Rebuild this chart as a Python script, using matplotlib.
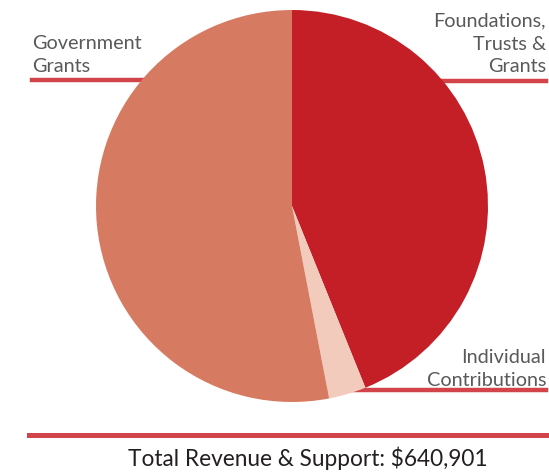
import matplotlib
matplotlib.use("Agg")
import matplotlib.pyplot as plt
from matplotlib.lines import Line2D

categories = ["Foundations, Trusts & Grants", "Individual Contributions", "Government Grants"]
values = [281300, 19700, 339901]
colors = ["#c41f26", "#f2cbbc", "#d67b62"]
total_label = "Total Revenue & Support: $640,901"

W, H = 549, 472
fig = plt.figure(figsize=(W / 100, H / 100), dpi=100)
fig.patch.set_facecolor("white")

line_color = "#d2434a"
font = ["Lato", "DejaVu Sans"]

def fx(x):
    return x / W

def fy(y):
    return 1 - y / H

# leader lines (drawn behind pie)
for (x0, x1, y) in [(32, 200, 80), (420, 546, 81), (330, 546, 390)]:
    fig.add_artist(Line2D([fx(x0), fx(x1)], [fy(y), fy(y)], color=line_color, lw=3.2, zorder=0))
fig.add_artist(Line2D([fx(29), fx(547)], [fy(435), fy(435)], color=line_color, lw=3.6, zorder=0))

cx, cy, r = 292, 206, 196
ax = fig.add_axes([fx(cx - r), fy(cy + r), 2 * r / W, 2 * r / H])
ax.set_zorder(1)
ax.pie(values, colors=colors, startangle=90, counterclock=False,
       wedgeprops=dict(linewidth=0), radius=1.0)
ax.set_xlim(-1, 1)
ax.set_ylim(-1, 1)
ax.set_aspect("equal")
ax.axis("off")

tc = "#58595b"
fs = 14.3
ls = 1.42
fig.text(fx(32), fy(55), "Government\nGrants", ha="left", va="center", fontsize=fs,
         color=tc, family=font, linespacing=ls, zorder=3)
fig.text(fx(546), fy(44), "Foundations,\nTrusts &\nGrants", ha="right", va="center", fontsize=fs,
         color=tc, family=font, linespacing=ls, ma="right", zorder=3)
fig.text(fx(546), fy(369), "Individual\nContributions", ha="right", va="center", fontsize=fs,
         color=tc, family=font, linespacing=ls, ma="right", zorder=3)
fig.text(fx(308), fy(458), total_label, ha="center", va="center", fontsize=16.3,
         color="#231f20", family=font, zorder=3)

fig.savefig("out.png", dpi=100, facecolor="white")
